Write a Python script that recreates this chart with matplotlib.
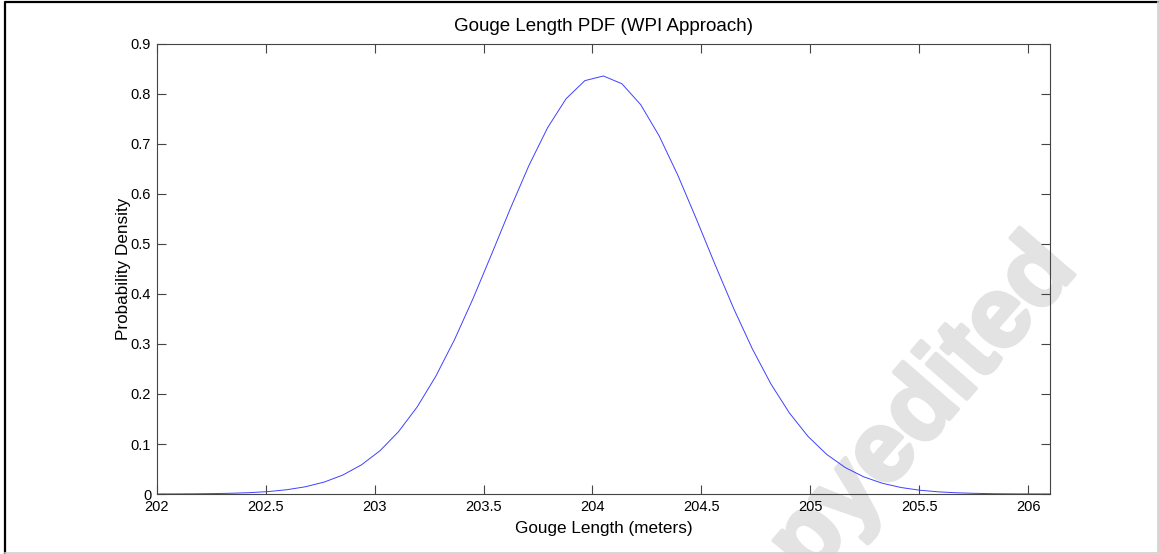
import matplotlib.pyplot as plt
import matplotlib.patheffects as pe
from matplotlib.lines import Line2D

# sample points of the PDF curve
gouge_length = [
    202.000, 202.085, 202.171, 202.256, 202.342, 202.427, 202.513, 202.598,
    202.683, 202.769, 202.854, 202.940, 203.025, 203.110, 203.196, 203.281,
    203.367, 203.452, 203.538, 203.623, 203.708, 203.794, 203.879, 203.965,
    204.050, 204.135, 204.221, 204.306, 204.392, 204.477, 204.563, 204.648,
    204.733, 204.819, 204.904, 204.990, 205.075, 205.160, 205.246, 205.331,
    205.417, 205.502, 205.588, 205.673, 205.758, 205.844, 205.929, 206.015,
    206.100,
]
density = [
    0.0001, 0.0002, 0.0004, 0.0008, 0.0015, 0.0027, 0.0049, 0.0086,
    0.0145, 0.0239, 0.0379, 0.0584, 0.0866, 0.1247, 0.1745, 0.2355,
    0.3089, 0.3910, 0.4806, 0.5708, 0.6567, 0.7326, 0.7906, 0.8267,
    0.8360, 0.8205, 0.7788, 0.7162, 0.6372, 0.5497, 0.4584, 0.3710,
    0.2909, 0.2200, 0.1619, 0.1148, 0.0792, 0.0529, 0.0341, 0.0214,
    0.0129, 0.0076, 0.0043, 0.0024, 0.0013, 0.0006, 0.0003, 0.0002,
    0.0001,
]
x_ticks = [202, 202.5, 203, 203.5, 204, 204.5, 205, 205.5, 206]
x_tick_labels = ["202", "202.5", "203", "203.5", "204", "204.5", "205", "205.5", "206"]
y_ticks = [0, 0.1, 0.2, 0.3, 0.4, 0.5, 0.6, 0.7, 0.8, 0.9]
y_tick_labels = ["0", "0.1", "0.2", "0.3", "0.4", "0.5", "0.6", "0.7", "0.8", "0.9"]

plt.rcParams["font.family"] = ["Liberation Sans", "DejaVu Sans"]

fig = plt.figure(figsize=(11.59, 5.54), dpi=100)
ax = fig.add_axes([0.1352, 0.1083, 0.9060 - 0.1352, 0.9206 - 0.1083])
ax.set_facecolor("none")

# watermark behind the axes
wm = fig.text(0.7645, 0.184, "copyedited", fontsize=72, fontweight="bold", color="#e3e3e3",
              rotation=49, ha="center", va="center", zorder=-1)
wm.set_path_effects([pe.withStroke(linewidth=3, foreground="#e3e3e3")])

ax.plot(gouge_length, density, color="#4040ff", linewidth=0.7)

ax.set_xlim(202, 206.1)
ax.set_ylim(0, 0.9)
ax.set_xticks(x_ticks)
ax.set_xticklabels(x_tick_labels)
ax.set_yticks(y_ticks)
ax.set_yticklabels(y_tick_labels)
ax.tick_params(direction="in", length=6.5, width=0.8, color="#444444",
               top=True, right=True, labelsize=10.5, pad=4)
for s in ax.spines.values():
    s.set_color("#444444")
    s.set_linewidth(0.8)

ax.set_title("Gouge Length PDF (WPI Approach)", fontsize=13.5, pad=9)
ax.set_xlabel("Gouge Length (meters)", fontsize=12.3, labelpad=5)
ax.set_ylabel("Probability Density", fontsize=12.3, labelpad=0)

# outer frame: dark on top/left, light on right/bottom
fig.add_artist(Line2D([0.004, 0.004, 0.999], [0.0, 0.996, 0.996], color="black", linewidth=1.6))
fig.add_artist(Line2D([0.004, 0.999, 0.999], [0.002, 0.002, 0.996], color="#d0d0d0", linewidth=1.2))

fig.savefig("out.png", dpi=100)
